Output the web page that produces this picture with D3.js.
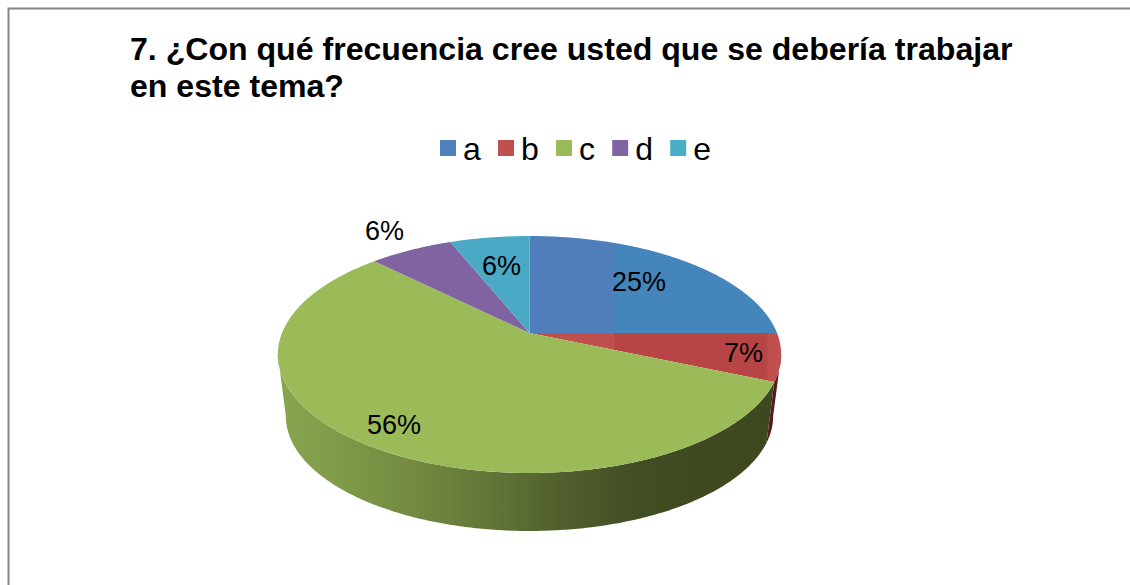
<!DOCTYPE html>
<html>
<head>
<meta charset="utf-8">
<script src="https://cdnjs.cloudflare.com/ajax/libs/d3/7.8.5/d3.min.js"></script>
<style>
html, body { margin: 0; padding: 0; background: #fff; }
svg { display: block; }
text { font-family: "Liberation Sans", Arial, sans-serif; fill: #000; }
</style>
</head>
<body>
<svg id="chart"></svg>
<script>
// datos
var titleLines = ["7. ¿Con qué frecuencia cree usted que se debería trabajar", "en este tema?"]
var categories = ["a", "b", "c", "d", "e"]
var values = [25, 6.5, 56, 6.4, 6.1]
var valueLabels = ["25%", "7%", "56%", "6%", "6%"]
var colors = ["#4f81bd", "#c0504d", "#9bbb59", "#8064a2", "#4bacc6"]

var width = 1130,
    height = 585
var svg = d3.select("#chart").attr("width", width).attr("height", height)

// perspectiva de la tarta: disco unidad -> pantalla
var perspective = 0.1814
var topFace = { x: 529.5, y: 333, rx: 247.5, ry: 114.6 }
var bottomFace = { x: 529.5, y: 395.5, rx: 239.6, ry: 110.9 }
var labelRadius = [0.68, 0.855, 0.85, 1.265, 0.665]

function project(face, angle, r) {
    var u = r * Math.sin(angle),
        v = -r * Math.cos(angle),
        k = 1 / (1 - perspective * v)
    return [face.x + face.rx * u * k, face.y + face.ry * v * k]
}

function arcPoints(face, a0, a1) {
    var n = Math.max(2, Math.ceil((a1 - a0) / 0.01))
    return d3.range(n + 1).map(function (i) {
        return project(face, a0 + (a1 - a0) * i / n, 1)
    })
}

var arcs = d3.pie().sort(null).value(function (d) { return d })(values)
var line = d3.line()
var defs = svg.append("defs")

function hardGradient(id, stops) {
    var g = defs.append("linearGradient")
        .attr("id", id)
        .attr("gradientUnits", "userSpaceOnUse")
        .attr("x1", 278).attr("x2", 782).attr("y1", 0).attr("y2", 0)
    stops.forEach(function (s) {
        g.append("stop").attr("offset", (s[0] - 278) / 504).attr("stop-color", s[1])
    })
    return "url(#" + id + ")"
}

// pared lateral, solo entre los puntos extremos de la silueta
var frontStart = Math.acos(-perspective),
    frontEnd = 2 * Math.PI - frontStart
var wallFill = {
    1: hardGradient("wall-b", [[278, "#6a2422"], [782, "#571b1b"]]),
    2: hardGradient("wall-c", [
        [278, "#8aa54f"], [340, "#7f9a49"], [420, "#72883f"], [500, "#5f7337"],
        [560, "#515f2d"], [640, "#414d23"], [700, "#3f4a21"], [782, "#3d4820"]
    ])
}
svg.append("g").attr("class", "walls")
    .selectAll("path")
    .data(arcs.filter(function (d) { return wallFill[d.index] }))
    .enter().append("path")
    .attr("d", function (d) {
        var a0 = Math.max(d.startAngle, frontStart),
            a1 = Math.min(d.endAngle, frontEnd),
            upper = arcPoints(topFace, a0, a1),
            lower = arcPoints(bottomFace, a0, a1).reverse()
        return line(upper.concat(lower)) + "Z"
    })
    .attr("fill", function (d) { return wallFill[d.index] })

// cara superior
var topFill = {
    0: hardGradient("top-a", [[278, "#4f7eba"], [614, "#4f7eba"], [615, "#4485bb"], [782, "#4485bb"]]),
    1: hardGradient("top-b", [[278, "#c0504d"], [614, "#c0504d"], [615, "#b84545"], [767, "#b84545"], [768, "#c0504d"], [782, "#c0504d"]]),
    4: hardGradient("top-e", [[278, "#4aaac5"], [782, "#4aaac5"]])
}
svg.append("g").attr("class", "slices")
    .selectAll("path")
    .data(arcs)
    .enter().append("path")
    .attr("d", function (d) {
        var apex = project(topFace, 0, 0)
        return line([apex].concat(arcPoints(topFace, d.startAngle, d.endAngle))) + "Z"
    })
    .attr("fill", function (d) { return topFill[d.index] || colors[d.index] })

// etiquetas de datos
svg.append("g").attr("class", "labels")
    .selectAll("text")
    .data(arcs)
    .enter().append("text")
    .attr("text-anchor", "middle")
    .attr("font-size", 27)
    .attr("x", function (d) {
        return project(topFace, (d.startAngle + d.endAngle) / 2, labelRadius[d.index])[0]
    })
    .attr("y", function (d) {
        return project(topFace, (d.startAngle + d.endAngle) / 2, labelRadius[d.index])[1] + 8.5
    })
    .text(function (d) { return valueLabels[d.index] })

// titulo
svg.append("g").attr("class", "title")
    .selectAll("text")
    .data(titleLines)
    .enter().append("text")
    .attr("x", 130)
    .attr("y", function (d, i) { return 60 + i * 37 })
    .attr("font-size", 32.1)
    .attr("font-weight", "bold")
    .text(function (d) { return d })

// leyenda
var legend = svg.append("g").attr("class", "legend")
var legendX = 440
categories.forEach(function (c, i) {
    legend.append("rect")
        .attr("x", legendX).attr("y", 140)
        .attr("width", 16).attr("height", 16)
        .attr("fill", colors[i])
    var t = legend.append("text")
        .attr("x", legendX + 23).attr("y", 159.5)
        .attr("font-size", 32)
        .text(c)
    legendX += 40.2 + t.node().getComputedTextLength()
})

// marco (sin lados derecho ni inferior)
svg.append("path")
    .attr("d", line([[8.5, height], [8.5, 8.5], [width, 8.5]]))
    .attr("fill", "none")
    .attr("stroke", "#868686")
    .attr("stroke-width", 2)
</script>
</body>
</html>
